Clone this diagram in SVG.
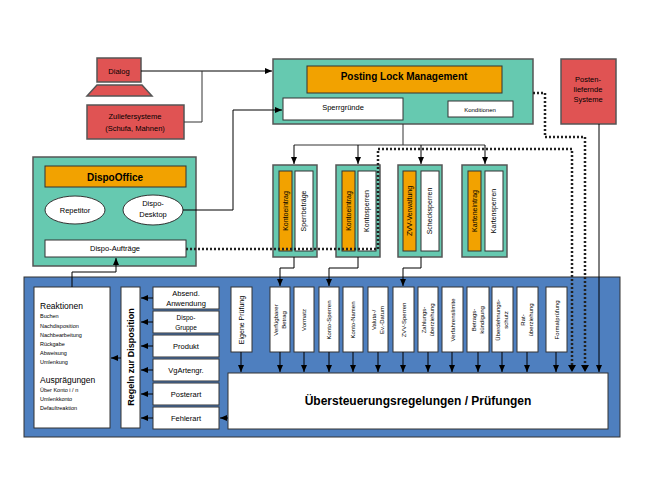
<svg xmlns="http://www.w3.org/2000/svg" width="654" height="491" viewBox="0 0 654 491">
<defs>
<marker id="ah" markerWidth="8" markerHeight="8" refX="7" refY="4" orient="auto" markerUnits="userSpaceOnUse"><path d="M0,1 L7,4 L0,7 Z" fill="#000"/></marker>
<style>
text{font-family:"Liberation Sans",Arial,sans-serif;fill:#000}
.teal{fill:#66c9b0;stroke:#555;stroke-width:1.5}
.org{fill:#f2a200;stroke:#333;stroke-width:1}
.red{fill:#e05353;stroke:#555;stroke-width:1.5}
.wh{fill:#fff;stroke:#333;stroke-width:1}
.ln{fill:none;stroke:#333;stroke-width:1}
.ar{fill:none;stroke:#000;stroke-width:1;marker-end:url(#ah)}
.dt{fill:none;stroke:#222;stroke-width:2.5;stroke-dasharray:2,2}
.vt{font-size:7px}
.s9{font-size:9px}
.s8{font-size:7.5px}
</style>
</defs>
<rect width="654" height="491" fill="#fff"/>
<g id="blue"><rect x="24" y="277" width="596" height="160" fill="#4e7fbf" stroke="#333"/></g>

<g id="dialog">
<rect class="red" x="97" y="58" width="44" height="24"/>
<text x="119" y="74" text-anchor="middle" class="s8">Dialog</text>
<polygon class="red" points="97,85 142,85 152,96 87,96"/>
</g>
<g id="zulief">
<rect class="red" x="87" y="105" width="97" height="34"/>
<text x="135" y="119" text-anchor="middle" class="s8">Zuliefersysteme</text>
<text x="135" y="131" text-anchor="middle" class="s8">(Schufa, Mahnen)</text>
</g>
<g id="dispooffice">
<rect class="teal" x="33" y="157" width="163" height="109"/>
<rect class="org" x="45" y="166" width="141" height="21"/>
<text x="115" y="181" text-anchor="middle" font-size="10" font-weight="bold">DispoOffice</text>
<ellipse class="wh" cx="75" cy="210" rx="30" ry="14"/>
<text x="75" y="213" text-anchor="middle" class="s8">Repetitor</text>
<ellipse class="wh" cx="153" cy="210" rx="30" ry="15"/>
<text x="153" y="206" text-anchor="middle" class="s8">Dispo-</text>
<text x="153" y="217" text-anchor="middle" class="s8">Desktop</text>
<rect class="wh" x="45" y="240" width="141" height="17"/>
<text x="115" y="251" text-anchor="middle" class="s8">Dispo-Aufträge</text>
</g>
<g id="plm">
<rect class="teal" x="273" y="59" width="260" height="65"/>
<rect class="org" x="307" y="66" width="195" height="27"/>
<text x="404" y="80" text-anchor="middle" font-size="10" font-weight="bold">Posting Lock Management</text>
<rect class="wh" x="283" y="98" width="120" height="22"/>
<text x="343" y="110" text-anchor="middle" class="s8">Sperrgründe</text>
<rect class="wh" x="448" y="101" width="65" height="16"/>
<text x="480" y="112" text-anchor="middle" font-size="6">Konditionen</text>
</g>
<g id="posten">
<rect class="red" x="561" y="59" width="55" height="65"/>
<text x="588" y="82" text-anchor="middle" class="s8">Posten-</text>
<text x="588" y="92" text-anchor="middle" class="s8">liefernde</text>
<text x="588" y="102" text-anchor="middle" class="s8">Systeme</text>
</g>

<g id="sub1"><rect class="teal" x="273" y="165" width="44" height="92"/><rect class="org" x="279" y="171" width="13" height="80"/><rect class="wh" x="295" y="171" width="18" height="80"/>
<text class="vt" transform="translate(288,211) rotate(-90)" text-anchor="middle">Kontoeintrag</text><text class="vt" transform="translate(306,211) rotate(-90)" text-anchor="middle">Sperrbeträge</text></g>
<g id="sub2"><rect class="teal" x="336" y="165" width="44" height="92"/><rect class="org" x="342" y="171" width="13" height="80"/><rect class="wh" x="358" y="171" width="18" height="80"/>
<text class="vt" transform="translate(351,211) rotate(-90)" text-anchor="middle">Kontoeintrag</text><text class="vt" transform="translate(369,211) rotate(-90)" text-anchor="middle">Kontosperren</text></g>
<g id="sub3"><rect class="teal" x="398" y="165" width="44" height="92"/><rect class="org" x="403" y="171" width="13" height="80"/><rect class="wh" x="421" y="171" width="18" height="80"/>
<text class="vt" transform="translate(412,211) rotate(-90)" text-anchor="middle">ZVV-Verwaltung</text><text class="vt" transform="translate(432,211) rotate(-90)" text-anchor="middle">Schecksperren</text></g>
<g id="sub4"><rect class="teal" x="462" y="165" width="45" height="92"/><rect class="org" x="468" y="171" width="13" height="80"/><rect class="wh" x="485" y="171" width="18" height="80"/>
<text class="vt" transform="translate(477,211) rotate(-90)" text-anchor="middle">Karteneintrag</text><text class="vt" transform="translate(496,211) rotate(-90)" text-anchor="middle">Kartensperren</text></g>

<g id="reaktionen">
<rect class="wh" x="34" y="287" width="76" height="141"/>
<text x="40" y="309" font-size="8.5">Reaktionen</text>
<text x="40" y="318" font-size="5.5">Buchen</text>
<text x="40" y="328" font-size="5.5">Nachdisposition</text>
<text x="40" y="337" font-size="5.5">Nachbearbeitung</text>
<text x="40" y="346" font-size="5.5">Rückgabe</text>
<text x="40" y="355" font-size="5.5">Abweisung</text>
<text x="40" y="364" font-size="5.5">Umlenkung</text>
<text x="40" y="383" font-size="8.5">Ausprägungen</text>
<text x="40" y="392" font-size="5.5">Über Konto i / n</text>
<text x="40" y="401" font-size="5.5">Umlenkkonto</text>
<text x="40" y="410" font-size="5.5">Defaultreaktion</text>
</g>
<g id="regeln"><rect class="wh" x="121" y="287" width="19" height="141"/>
<text transform="translate(134,357) rotate(-90)" text-anchor="middle" font-size="9" font-weight="bold">Regeln zur Disposition</text></g>
<g id="r1"><rect class="wh" x="153" y="287" width="66" height="22"/><text x="186" y="296" text-anchor="middle" class="s8">Absend.</text><text x="186" y="306" text-anchor="middle" class="s8">Anwendung</text></g>
<g id="r2"><rect class="wh" x="153" y="311" width="66" height="22"/><text x="186" y="320" text-anchor="middle" font-size="6.5">Dispo-</text><text x="186" y="330" text-anchor="middle" font-size="6.5">Gruppe</text></g>
<g id="r3"><rect class="wh" x="153" y="335" width="66" height="22"/><text x="186" y="349" text-anchor="middle" class="s8">Produkt</text></g>
<g id="r4"><rect class="wh" x="153" y="359" width="66" height="22"/><text x="186" y="373" text-anchor="middle" class="s8">VgArtengr.</text></g>
<g id="r5"><rect class="wh" x="153" y="383" width="66" height="22"/><text x="186" y="397" text-anchor="middle" class="s8">Posterart</text></g>
<g id="r6"><rect class="wh" x="153" y="407" width="66" height="22"/><text x="186" y="421" text-anchor="middle" class="s8">Fehlerart</text></g>

<g id="checks" font-size="6">
<rect class="wh" x="231" y="287" width="21" height="65"/><text class="vt" transform="translate(244,320) rotate(-90)" text-anchor="middle" font-size="6">Eigene Prüfung</text>
<rect class="wh" x="270" y="287" width="20" height="65"/><text transform="translate(278,320) rotate(-90)" text-anchor="middle" font-size="6">Verfügbarer</text><text transform="translate(286,320) rotate(-90)" text-anchor="middle" font-size="6">Betrag</text>
<rect class="wh" x="294" y="287" width="20" height="65"/><text transform="translate(306,320) rotate(-90)" text-anchor="middle" font-size="6">Vormatz</text>
<rect class="wh" x="319" y="287" width="20" height="65"/><text transform="translate(331,320) rotate(-90)" text-anchor="middle" font-size="6">Konto-Sperren</text>
<rect class="wh" x="343" y="287" width="20" height="65"/><text transform="translate(355,320) rotate(-90)" text-anchor="middle" font-size="6">Konto-Namen</text>
<rect class="wh" x="368" y="287" width="20" height="65"/><text transform="translate(376,320) rotate(-90)" text-anchor="middle" font-size="6">Valuta-/</text><text transform="translate(384,320) rotate(-90)" text-anchor="middle" font-size="6">Ev.-Datum</text>
<rect class="wh" x="393" y="287" width="21" height="65"/><text transform="translate(406,320) rotate(-90)" text-anchor="middle" font-size="6">ZVV-Sperren</text>
<rect class="wh" x="418" y="287" width="20" height="65"/><text transform="translate(426,320) rotate(-90)" text-anchor="middle" font-size="6">Zahlungs-</text><text transform="translate(434,320) rotate(-90)" text-anchor="middle" font-size="6">überziehung</text>
<rect class="wh" x="442" y="287" width="21" height="65"/><text transform="translate(455,320) rotate(-90)" text-anchor="middle" font-size="6">Verfahrenslimite</text>
<rect class="wh" x="467" y="287" width="22" height="65"/><text transform="translate(476,320) rotate(-90)" text-anchor="middle" font-size="6">Betrags-</text><text transform="translate(484,320) rotate(-90)" text-anchor="middle" font-size="6">kündigung</text>
<rect class="wh" x="492" y="287" width="21" height="65"/><text transform="translate(500,320) rotate(-90)" text-anchor="middle" font-size="6">Überdehnungs-</text><text transform="translate(508,320) rotate(-90)" text-anchor="middle" font-size="6">schutz</text>
<rect class="wh" x="517" y="287" width="21" height="65"/><text transform="translate(525,320) rotate(-90)" text-anchor="middle" font-size="6">Rat-</text><text transform="translate(533,320) rotate(-90)" text-anchor="middle" font-size="6">überziehung</text>
<rect class="wh" x="546" y="287" width="21" height="65"/><text transform="translate(559,320) rotate(-90)" text-anchor="middle" font-size="6">Formalprüfung</text>
</g>
<g id="uebersteuerung"><rect class="wh" x="228" y="373" width="380" height="56"/>
<text x="418" y="405" text-anchor="middle" font-size="12" font-weight="bold">Übersteuerungsregelungen / Prüfungen</text></g>

<g id="connectors">
<path class="ar" d="M141,71 H272"/>
<path class="ln" d="M184,122 H202 V71"/>
<path class="ar" d="M183,210 H233 V110 H282"/>
<path class="ar" d="M72,287 V272 H116 V258"/>
<path class="ln" d="M403,124 V145 M294,145 H485"/>
<path class="ar" d="M294,145 V164"/><path class="ar" d="M358,145 V164"/><path class="ar" d="M421,145 V164"/><path class="ar" d="M485,145 V164"/>
<path class="ar" d="M294,257 V268 H280 V286"/>
<path class="ar" d="M358,257 V268 H329 V286"/>
<path class="ar" d="M421,257 V268 H403 V286"/>
<path class="dt" d="M186,249 H378 V149 H572 V366"/>
<path class="dt" d="M533,93 H545 V137 H585 V366"/>
<path fill="#000" d="M568,365 L576,365 L572,372 Z M581,365 L589,365 L585,372 Z"/>
<path class="ar" d="M599,124 V372"/>
<path class="ar" d="M241,352 V372"/><path class="ar" d="M280,352 V372"/><path class="ar" d="M304,352 V372"/><path class="ar" d="M329,352 V372"/><path class="ar" d="M353,352 V372"/><path class="ar" d="M378,352 V372"/><path class="ar" d="M403,352 V372"/><path class="ar" d="M428,352 V372"/><path class="ar" d="M452,352 V372"/><path class="ar" d="M478,352 V372"/><path class="ar" d="M502,352 V372"/><path class="ar" d="M527,352 V372"/><path class="ar" d="M556,352 V372"/>
<path class="ar" d="M153,298 H141"/><path class="ar" d="M153,322 H141"/><path class="ar" d="M153,346 H141"/><path class="ar" d="M153,370 H141"/><path class="ar" d="M153,394 H141"/><path class="ar" d="M153,418 H141"/>
<path class="ar" d="M121,358 H111"/>
<path class="ar" d="M228,418 H220"/>
</g>
</svg>
